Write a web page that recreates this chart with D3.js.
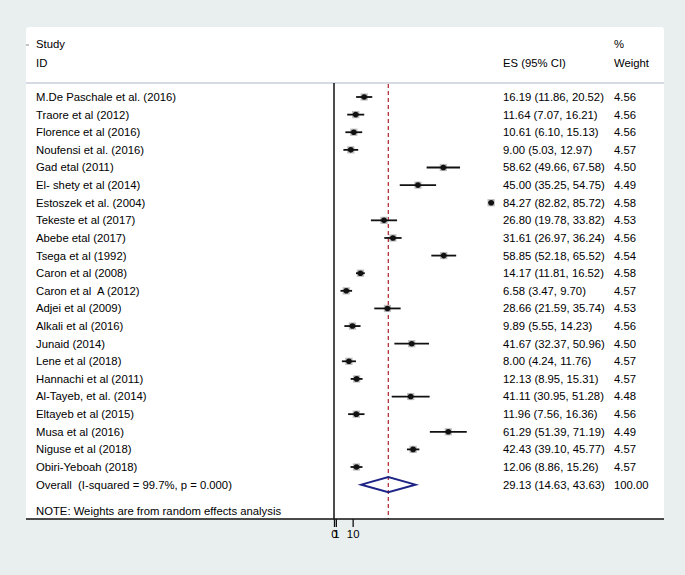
<!DOCTYPE html>
<html>
<head>
<meta charset="utf-8">
<script src="https://cdn.jsdelivr.net/npm/d3@7"></script>
<style>
  html, body { margin: 0; padding: 0; background: #e9efef; }
  svg { display: block; }
  text { font-family: "Liberation Sans", Arial, Helvetica, sans-serif; fill: #000; white-space: pre; }
</style>
</head>
<body>
<svg id="chart" width="685" height="575"></svg>
<script>
// ---- Data ----
const studies = [
  "M.De Paschale et al. (2016)", "Traore et al (2012)", "Florence et al (2016)",
  "Noufensi et al. (2016)", "Gad etal (2011)", "El- shety et al (2014)",
  "Estoszek et al. (2004)", "Tekeste et al (2017)", "Abebe etal (2017)",
  "Tsega et al (1992)", "Caron et al (2008)", "Caron et al  A (2012)",
  "Adjei et al (2009)", "Alkali et al (2016)", "Junaid (2014)",
  "Lene et al (2018)", "Hannachi et al (2011)", "Al-Tayeb, et al. (2014)",
  "Eltayeb et al (2015)", "Musa et al (2016)", "Niguse et al (2018)",
  "Obiri-Yeboah (2018)"
];
const es    = [16.19, 11.64, 10.61, 9.00, 58.62, 45.00, 84.27, 26.80, 31.61, 58.85, 14.17, 6.58, 28.66, 9.89, 41.67, 8.00, 12.13, 41.11, 11.96, 61.29, 42.43, 12.06];
const lower = [11.86, 7.07, 6.10, 5.03, 49.66, 35.25, 82.82, 19.78, 26.97, 52.18, 11.81, 3.47, 21.59, 5.55, 32.37, 4.24, 8.95, 30.95, 7.56, 51.39, 39.10, 8.86];
const upper = [20.52, 16.21, 15.13, 12.97, 67.58, 54.75, 85.72, 33.82, 36.24, 65.52, 16.52, 9.70, 35.74, 14.23, 50.96, 11.76, 15.31, 51.28, 16.36, 71.19, 45.77, 15.26];
const weights = [4.56, 4.56, 4.56, 4.57, 4.50, 4.49, 4.58, 4.53, 4.56, 4.54, 4.58, 4.57, 4.53, 4.56, 4.50, 4.57, 4.57, 4.48, 4.56, 4.49, 4.57, 4.57];
const overall = { label: "Overall  (I-squared = 99.7%, p = 0.000)", es: 29.13, lo: 14.63, hi: 43.63, weight: "100.00" };
const tickValues = [0, 1, 10];
const noteText = "NOTE: Weights are from random effects analysis";

// ---- Layout ----
const svg = d3.select("#chart");
const panel = { left: 26, top: 27, right: 664, bottom: 519 };
const headerLineY = 83;
const x = d3.scaleLinear().domain([0, 100]).range([334, 334 + 186.5]);
const y = d3.scaleLinear().domain([0, 1]).range([97, 97 + 17.62]);
const colStudy = 36, colES = 503, colW = 614;
const fs = "11.3px";

// panel
svg.append("rect")
  .attr("x", panel.left).attr("y", panel.top)
  .attr("width", panel.right - panel.left).attr("height", panel.bottom - panel.top)
  .attr("rx", 3).attr("fill", "#ffffff");

// small mark at left
svg.append("line").attr("x1", 26).attr("x2", 29).attr("y1", 45).attr("y2", 45)
  .attr("stroke", "#888").attr("stroke-width", 1);

// header
const hdr = svg.append("g").style("font-size", fs);
hdr.append("text").attr("x", colStudy).attr("y", 44).attr("dy", "0.35em").text("Study");
hdr.append("text").attr("x", colStudy).attr("y", 63).attr("dy", "0.35em").text("ID");
hdr.append("text").attr("x", colES).attr("y", 63).attr("dy", "0.35em").text("ES (95% CI)");
hdr.append("text").attr("x", colW).attr("y", 44).attr("dy", "0.35em").text("%");
hdr.append("text").attr("x", colW).attr("y", 63).attr("dy", "0.35em").text("Weight");

// header separator
svg.append("line")
  .attr("x1", panel.left).attr("x2", panel.right)
  .attr("y1", headerLineY).attr("y2", headerLineY)
  .attr("stroke", "#c9ced9").attr("stroke-width", 1.5);

// null line (x = 0)
svg.append("line")
  .attr("x1", x(0)).attr("x2", x(0))
  .attr("y1", headerLineY).attr("y2", panel.bottom)
  .attr("stroke", "#111").attr("stroke-width", 1.5);

// overall dashed line
svg.append("line")
  .attr("x1", x(overall.es)).attr("x2", x(overall.es))
  .attr("y1", headerLineY + 1).attr("y2", panel.bottom)
  .attr("stroke", "#b3323c").attr("stroke-width", 1.3)
  .attr("stroke-dasharray", "4,3");

// rows
const rows = studies.map((s, i) => ({ s, es: es[i], lo: lower[i], hi: upper[i], w: weights[i], i }));
const g = svg.append("g");
const row = g.selectAll("g.row").data(rows).join("g").attr("class", "row");

row.append("rect")
  .attr("x", d => x(d.es) - Math.sqrt(d.w) * 1.7)
  .attr("y", d => y(d.i) - Math.sqrt(d.w) * 1.7)
  .attr("width", d => Math.sqrt(d.w) * 3.4)
  .attr("height", d => Math.sqrt(d.w) * 3.4)
  .attr("fill", "#bdbdbd");

row.append("line")
  .attr("x1", d => x(d.lo)).attr("x2", d => x(d.hi))
  .attr("y1", d => y(d.i)).attr("y2", d => y(d.i))
  .attr("stroke", "#111").attr("stroke-width", 1.8);

row.append("circle")
  .attr("cx", d => x(d.es)).attr("cy", d => y(d.i))
  .attr("r", 2.8).attr("fill", "#111");

row.append("text").style("font-size", fs)
  .attr("x", colStudy).attr("y", d => y(d.i)).attr("dy", "0.35em").text(d => d.s);
row.append("text").style("font-size", fs)
  .attr("x", colES).attr("y", d => y(d.i)).attr("dy", "0.35em")
  .text(d => `${d.es.toFixed(2)} (${d.lo.toFixed(2)}, ${d.hi.toFixed(2)})`);
row.append("text").style("font-size", fs)
  .attr("x", colW).attr("y", d => y(d.i)).attr("dy", "0.35em")
  .text(d => d.w.toFixed(2));

// overall
const oy = y(studies.length);
svg.append("path")
  .attr("d", d3.line()([
    [x(overall.lo), oy], [x(overall.es), oy - 7.5],
    [x(overall.hi), oy], [x(overall.es), oy + 7.5]
  ]) + "Z")
  .attr("fill", "none").attr("stroke", "#1e2586").attr("stroke-width", 2);
svg.append("text").style("font-size", fs).attr("x", colStudy).attr("y", oy).attr("dy", "0.35em").text(overall.label);
svg.append("text").style("font-size", fs).attr("x", colES).attr("y", oy).attr("dy", "0.35em")
  .text(`${overall.es.toFixed(2)} (${overall.lo.toFixed(2)}, ${overall.hi.toFixed(2)})`);
svg.append("text").style("font-size", fs).attr("x", colW).attr("y", oy).attr("dy", "0.35em").text(overall.weight);

// note
svg.append("text").style("font-size", fs).attr("x", colStudy).attr("y", 511).attr("dy", "0.35em").text(noteText);

// x axis
svg.append("line")
  .attr("x1", panel.left).attr("x2", panel.right)
  .attr("y1", panel.bottom).attr("y2", panel.bottom)
  .attr("stroke", "#111").attr("stroke-width", 1.5);
const axis = d3.axisBottom(x).tickValues(tickValues).tickSize(8).tickPadding(3).tickFormat(d3.format("d"));
const ax = svg.append("g").attr("transform", `translate(0,${panel.bottom})`).call(axis);
ax.select(".domain").remove();
ax.selectAll(".tick line").attr("stroke", "#111").attr("stroke-width", 1.3);
ax.selectAll(".tick text").style("font-size", fs).attr("fill", "#000")
  .style("font-family", "'Liberation Sans', Arial, sans-serif");
</script>
</body>
</html>
